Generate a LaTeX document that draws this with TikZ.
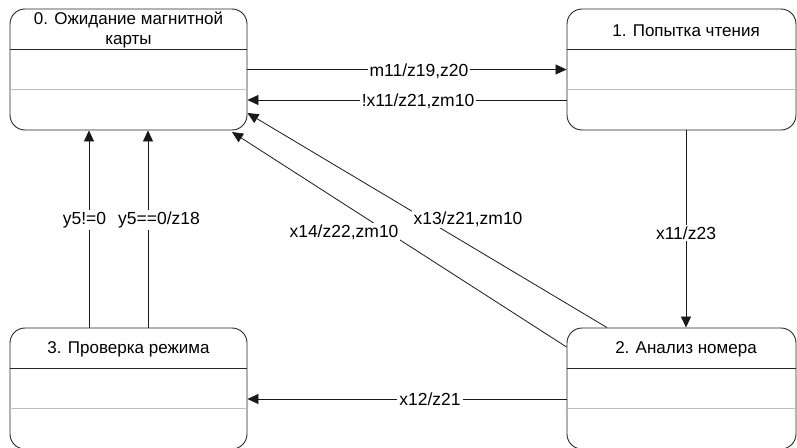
\documentclass[tikz,border=0pt]{standalone}
\usepackage{fontspec}
\setmainfont{Liberation Sans}
\usetikzlibrary{arrows.meta}
\begin{document}
\begin{tikzpicture}[x=1pt,y=-1pt,
  statebox/.style={draw=black!85, line width=0.9pt, rounded corners=15pt, fill=white,
    minimum width=237pt, minimum height=121pt, inner sep=0pt},
  title/.style={font=\fontsize{17}{20}\selectfont, align=center, inner sep=0pt},
  sepdark/.style={draw=black!85, line width=0.9pt},
  seplight/.style={draw=black!25, line width=0.9pt},
  arr/.style={draw=black!90, line width=0.8pt, -{Triangle[length=11pt,width=10pt]}},
  lbl/.style={font=\fontsize{17.5}{20}\selectfont, fill=white, inner sep=2pt}]
  \clip (0,0) rectangle (797,447);
  \fill[white] (0,0) rectangle (797,447);

  % states
  \node[statebox] (b0) at (128.5,69.5) {};
  \node[statebox, minimum width=229pt] (b1) at (681.5,69.5) {};
  \node[statebox] (b3) at (128.5,388.5) {};
  \node[statebox, minimum width=229pt] (b2) at (681.5,388.5) {};

  % compartment separators
  \foreach \b in {b0,b1,b3,b2} {
    \draw[sepdark] ([yshift=-41pt]\b.north west) -- ([yshift=-41pt]\b.north east);
    \draw[seplight] ([yshift=-81pt]\b.north west) -- ([yshift=-81pt]\b.north east);
  }

  % state names
  \node[title] (t0) at (128.5,30) {0. Ожидание магнитной\\карты};
  \node[title] (t1) at (686,31) {1. Попытка чтения};
  \node[title] (t3) at (128.5,349) {3. Проверка режима};
  \node[title] (t2) at (686,349) {2. Анализ номера};

  % transitions
  \draw[arr] (b0.east) -- (b1.west);
  \draw[arr] (b1.west |- 0,100) -- (b0.east |- 0,100);
  \draw[arr] (b1.south -| 686,0) -- (b2.north -| 686,0);
  \draw[arr] (b2.west |- 0,399) -- (b3.east |- 0,399);
  \draw[arr] (b3.north -| 89,0) -- (b0.south -| 89,0);
  \draw[arr] (b3.north -| 148,0) -- (b0.south -| 148,0);
  \draw[arr] (b2.west |- 0,347) -- (232,132);
  \draw[arr] (b2.north -| 607,0) -- (b0.east |- 0,113);

  % transition labels
  \node[lbl] (l1) at (419,71) {m11/z19,z20};
  \node[lbl] (l2) at (418,101) {!x11/z21,zm10};
  \node[lbl] (l3) at (686,233) {x11/z23};
  \node[lbl] (l4) at (430,399) {x12/z21};
  \node[lbl] (l5) at (84.5,220) {y5!=0};
  \node[lbl] (l6) at (159,220) {y5==0/z18};
  \node[lbl] (l7) at (468,219) {x13/z21,zm10};
  \node[lbl] (l8) at (344,232) {x14/z22,zm10};
\end{tikzpicture}
\end{document}
